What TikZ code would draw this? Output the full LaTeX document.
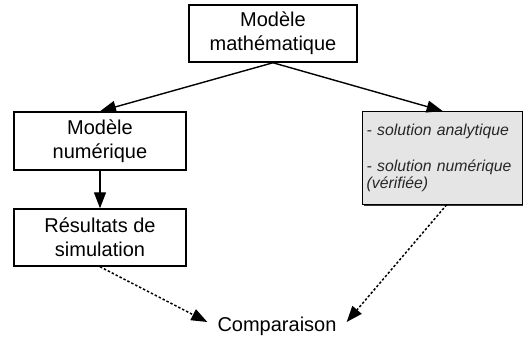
\documentclass[tikz,border=0pt]{standalone}
\usepackage{fontspec}
\setmainfont{Liberation Sans}
\usetikzlibrary{arrows.meta}
\begin{document}
\begin{tikzpicture}[x=1pt,y=-1pt,
  box/.style={draw=black,line width=1.5pt,fill=white,align=center,inner sep=0pt,
    font=\fontsize{20}{24}\selectfont},
  arr/.style={line width=1.4pt,-{Triangle[length=16pt,width=12pt]}},
  darr/.style={line width=1.5pt,dash pattern=on 2.4pt off 2pt,-{Triangle[length=16pt,width=12pt]}}]
\useasboundingbox (0,0) rectangle (523,340);
\node[box,minimum width=168pt,minimum height=57pt] (top) at (273,33.5) {Modèle\\mathématique};
\node[box,minimum width=172pt,minimum height=58pt] (num) at (100,141) {Modèle\\numérique};
\node[box,minimum width=172pt,minimum height=57pt] (res) at (100,237.5) {Résultats de\\simulation};
\fill[black!80] (363.5,112.5) rectangle (523,206);
\node[draw=black,line width=1.3pt,fill=black!10,anchor=north west,minimum width=158pt,minimum height=92.5pt,
  text width=152pt,align=left,inner xsep=4pt,inner ysep=0pt,text=black!85,
  font=\fontsize{15.8}{17}\selectfont\itshape] (sol) at (362,111)
  {- solution analytique\\[19pt]- solution numérique\\(vérifiée)};
\node[inner xsep=10pt,inner ysep=4pt,font=\fontsize{20}{24}\selectfont] (cmp) at (277,326) {Comparaison};
\draw[arr] (top.south) -- (num.north);
\draw[arr] (top.south) -- (sol.north);
\draw[arr] (num.south) -- (res.north);
\draw[darr] (res.south) -- ([yshift=4pt]cmp.west);
\draw[darr] ([xshift=4pt]sol.south) -- ([yshift=4pt]cmp.east);
\end{tikzpicture}
\end{document}
